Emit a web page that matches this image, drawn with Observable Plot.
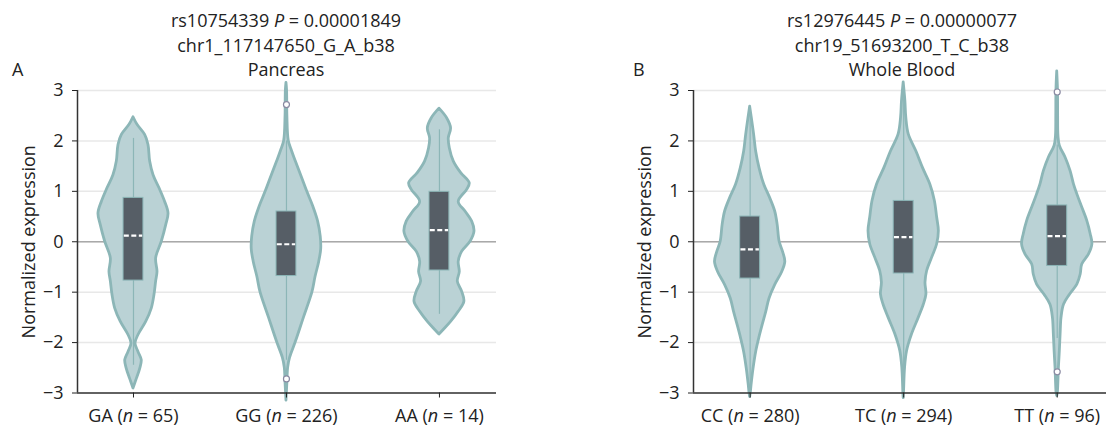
<!DOCTYPE html>
<html>
<head>
<meta charset="utf-8">
<script src="https://cdn.jsdelivr.net/npm/d3@7"></script>
<script src="https://cdn.jsdelivr.net/npm/@observablehq/plot@0.6"></script>
<style>
  html, body { margin: 0; padding: 0; background: #fff; overflow: hidden; }
  body { font-family: "Open Sans", sans-serif; color: #222; }
  #wrap { position: relative; width: 1106px; height: 428px; }
  .panel { position: absolute; top: 0; }
  .title { position: absolute; top: 8px; width: 440px; text-align: center; font-size: 18px; line-height: 24.7px; color: #222; white-space: nowrap; }
  .tag { position: absolute; top: 57.4px; font-size: 18px; line-height: 24.7px; color: #222; }
</style>
</head>
<body>
<div id="wrap">
  <div class="panel" id="pa" style="left:0"></div>
  <div class="panel" id="pb" style="left:553px"></div>
  <div class="tag" style="left:12px">A</div>
  <div class="tag" style="left:633px">B</div>
  <div class="title" id="ta" style="left:66px"></div>
  <div class="title" id="tb" style="left:682px"></div>
</div>
<script>
// ---------- data ----------
const snpA = "rs10754339", pA = "0.00001849", varA = "chr1_117147650_G_A_b38", tissueA = "Pancreas";
const snpB = "rs12976445", pB = "0.00000077", varB = "chr19_51693200_T_C_b38", tissueB = "Whole Blood";

const catsA = ["GA", "GG", "AA"];
const nA = [65, 226, 14];
const catsB = ["CC", "TC", "TT"];
const nB = [280, 294, 96];

const yTicks = [-3, -2, -1, 0, 1, 2, 3];

// box statistics per genotype
const q1A = [-0.77, -0.68, -0.57];
const medA = [0.12, -0.05, 0.23];
const q3A = [0.87, 0.60, 0.99];
const loA = [-2.45, -2.35, -1.44];
const hiA = [2.05, 2.0, 2.22];

const q1B = [-0.73, -0.63, -0.48];
const medB = [-0.15, 0.09, 0.11];
const q3B = [0.50, 0.81, 0.72];
const loB = [-2.9, -2.95, -1.92];
const hiB = [2.55, 2.9, 1.92];

// outliers: [category index, value]
const outA = [[1, 2.72], [1, -2.72]];
const outB = [[2, 2.97], [2, -2.58]];

// violin density profiles: [value, half-width in category units]
const violinGA = [[2.47,0],[2.32,.026],[2.12,.076],[1.92,.098],[1.59,.109],[1.32,.131],[1.06,.170],[0.79,.207],[0.56,.229],[0.33,.214],[0,.185],[-0.33,.148],[-0.6,.157],[-0.79,.148],[-1.06,.137],[-1.32,.12],[-1.59,.083],[-1.85,.033],[-2.02,.013],[-2.19,.033],[-2.35,.054],[-2.52,.044],[-2.72,.022],[-2.91,0]];
const violinGG = [[3.15,0],[3.0,.004],[2.5,.006],[2.0,.015],[1.8,.036],[1.6,.060],[1.3,.098],[1.0,.135],[0.7,.175],[0.4,.207],[0.1,.224],[-0.15,.227],[-0.4,.214],[-0.7,.190],[-1.0,.170],[-1.5,.115],[-2.0,.060],[-2.3,.024],[-2.5,.011],[-2.8,.006],[-3.15,0]];
const violinAA = [[2.64,0],[2.45,.050],[2.25,.076],[2.05,.061],[1.85,.068],[1.59,.094],[1.36,.142],[1.16,.198],[1.03,.181],[0.79,.126],[0.6,.170],[0.4,.214],[0.2,.229],[0,.203],[-0.2,.148],[-0.4,.126],[-0.6,.133],[-0.79,.120],[-0.99,.148],[-1.19,.163],[-1.39,.126],[-1.59,.076],[-1.75,.028],[-1.84,0]];
const violinCC = [[2.68,0],[2.45,.011],[2.12,.026],[1.79,.039],[1.46,.061],[1.13,.092],[0.86,.131],[0.6,.163],[0.34,.179],[0,.192],[-0.2,.214],[-0.4,.229],[-0.6,.209],[-0.86,.163],[-1.13,.126],[-1.39,.105],[-1.66,.081],[-1.92,.059],[-2.19,.039],[-2.52,.022],[-2.85,.009],[-3.0,.004],[-3.08,0]];
const violinTC = [[3.16,0],[2.79,.011],[2.46,.017],[2.13,.033],[1.79,.083],[1.46,.126],[1.13,.174],[0.81,.203],[0.48,.218],[0.21,.229],[-0.05,.218],[-0.32,.185],[-0.58,.153],[-0.81,.142],[-1.05,.148],[-1.25,.131],[-1.51,.098],[-1.84,.054],[-2.17,.022],[-2.5,.009],[-3.0,.002],[-3.1,0]];
const violinTT = [[3.38,0],[3.0,.005],[2.5,.006],[2.1,.008],[1.90,.017],[1.67,.054],[1.40,.087],[1.14,.109],[0.94,.131],[0.68,.163],[0.41,.196],[0.15,.218],[-0.05,.229],[-0.25,.207],[-0.45,.163],[-0.65,.153],[-0.85,.131],[-1.05,.083],[-1.25,.044],[-1.51,.028],[-1.84,.022],[-2.17,.017],[-2.5,.011],[-3.0,.004],[-3.06,0]];

// ---------- styles ----------
const TEAL = "#8cb6b7";
const VFILL = "#bad2d5";
const BOXFILL = "#565e66";
const BOX_HW = 0.065;
const fmt = d3.format("d");

function panel(el, cats, n, violins, q1, med, q3, lo, hi, outs, xDomain, mLeft, mRight) {
  const rows = [];
  violins.forEach((prof, i) => prof.forEach(([v, w]) => rows.push({pos: i, v, w})));
  const stats = cats.map((c, i) => ({pos: i, q1: q1[i], med: med[i], q3: q3[i], lo: lo[i], hi: hi[i]}));
  const outl = outs.map(([i, v]) => ({pos: i, v}));
  const svg = Plot.plot({
    width: 553,
    height: 428,
    marginTop: 90,
    marginBottom: 35.5,
    marginLeft: mLeft,
    marginRight: mRight,
    x: {domain: xDomain},
    y: {domain: [-3, 3]},
    style: {fontFamily: "'Open Sans', sans-serif", fontSize: "18px", color: "#222", background: "transparent", overflow: "visible"},
    marks: [
      Plot.gridY(yTicks, {stroke: "#e8e8e8", strokeOpacity: 1, strokeWidth: 1.5}),
      Plot.ruleY([0], {stroke: "#a9a9a9", strokeWidth: 1.5}),
      Plot.areaX(rows, {y: "v", x1: d => d.pos - d.w, x2: d => d.pos + d.w, z: "pos", fill: VFILL, stroke: TEAL, strokeWidth: 2.8, curve: "catmull-rom"}),
      Plot.ruleX(stats, {x: "pos", y1: "lo", y2: "hi", stroke: TEAL, strokeWidth: 1.2}),
      Plot.rect(stats, {x1: d => d.pos - BOX_HW, x2: d => d.pos + BOX_HW, y1: "q1", y2: "q3", fill: BOXFILL, stroke: TEAL, strokeWidth: 1}),
      Plot.ruleY(stats, {y: "med", x1: d => d.pos - BOX_HW + 0.005, x2: d => d.pos + BOX_HW - 0.005, stroke: "white", strokeWidth: 2.2, strokeDasharray: "5,2.5"}),
      Plot.dot(outl, {x: "pos", y: "v", r: 3, fill: "white", stroke: "#8a8aa2", strokeWidth: 1.2}),
      Plot.ruleX([xDomain[0]], {stroke: "#333", strokeWidth: 1.5}),
      Plot.ruleY([-3], {stroke: "#333", strokeWidth: 1.5}),
      Plot.axisY({ticks: yTicks, tickFormat: fmt, tickSize: 5, tickPadding: 9, label: null, fontSize: 18}),
      Plot.axisX({ticks: [0, 1, 2], tickFormat: i => `${cats[i]} (n = ${n[i]})`, tickSize: 5, tickPadding: 11, label: null, fontSize: 18}),
      Plot.text(["Normalized expression"], {frameAnchor: "left", textAnchor: "middle", lineAnchor: "middle", rotate: -90, dx: -48, fontSize: 18, fill: "#222"})
    ]
  });
  // italic "n" in tick labels
  d3.select(svg).selectAll("text").each(function() {
    const t = this.textContent;
    const m = t.match(/^(.*\()n( = \d+\))$/);
    if (m && this.children.length === 0) {
      const s = d3.select(this);
      s.text(null);
      s.append("tspan").text(m[1]);
      s.append("tspan").attr("font-style", "italic").text("n");
      s.append("tspan").text(m[2]);
    }
  });
  el.appendChild(svg);
}

panel(document.getElementById("pa"), catsA, nA, [violinGA, violinGG, violinAA],
      q1A, medA, q3A, loA, hiA, outA, [-0.366, 2.373], 77, 57);
panel(document.getElementById("pb"), catsB, nB, [violinCC, violinTC, violinTT],
      q1B, medB, q3B, loB, hiB, outB, [-0.369, 2.321], 140, 0);

function title(el, snp, p, v, tissue) {
  el.innerHTML = `${snp} <i>P</i> = ${p}<br>${v}<br>${tissue}`;
}
title(document.getElementById("ta"), snpA, pA, varA, tissueA);
title(document.getElementById("tb"), snpB, pB, varB, tissueB);
</script>
</body>
</html>
